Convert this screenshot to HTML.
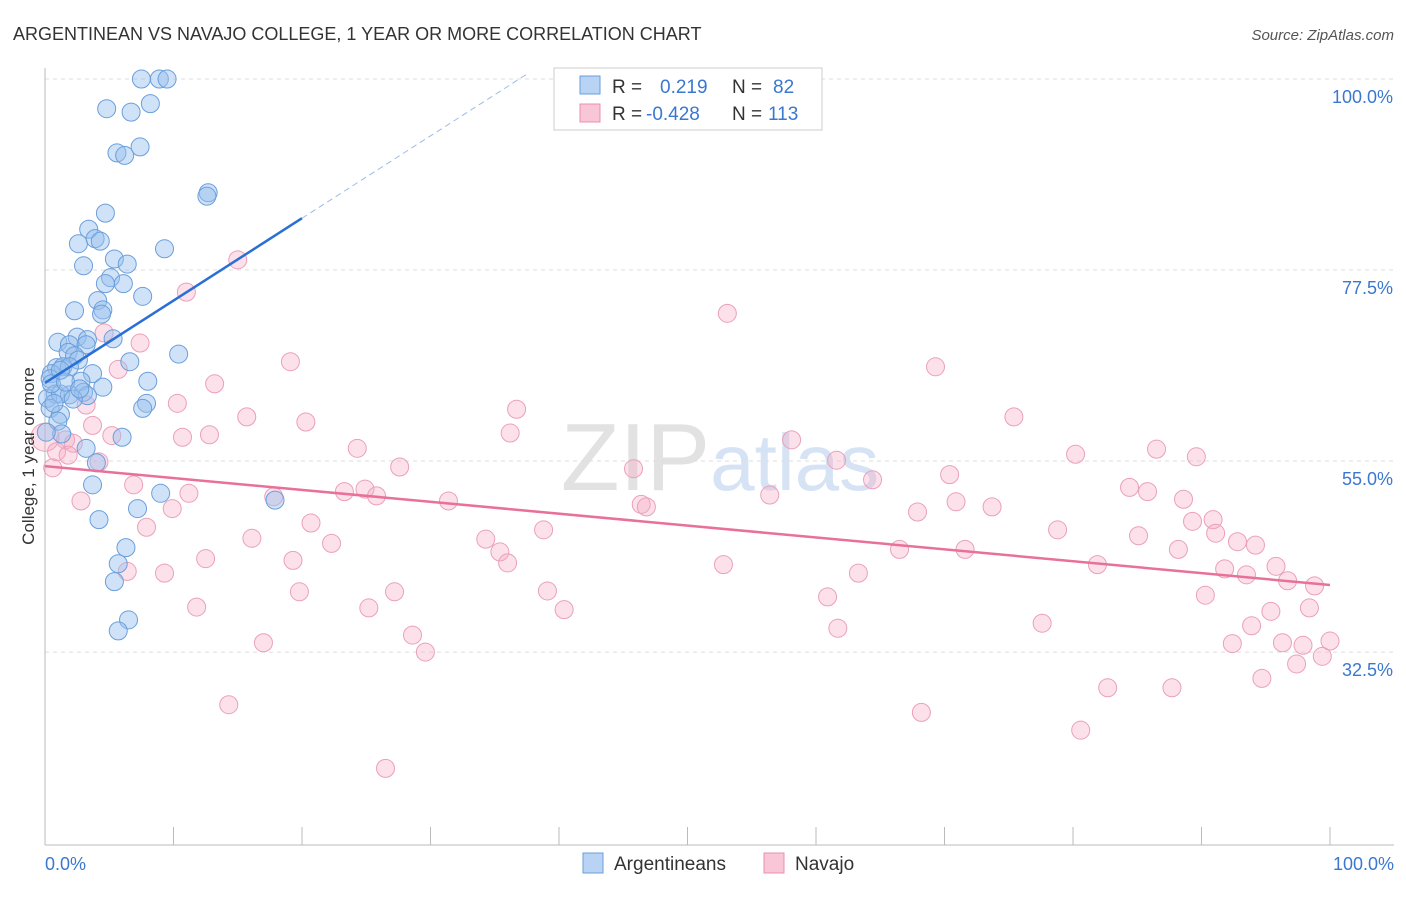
<!DOCTYPE html>
<html><head><meta charset="utf-8"><style>
body{margin:0;background:#fff;font-family:"Liberation Sans",sans-serif}
svg text{font-family:"Liberation Sans",sans-serif}
</style></head><body>
<svg id="chart" width="1406" height="892" viewBox="0 0 1406 892" xmlns="http://www.w3.org/2000/svg">
<text x="13" y="40" font-size="18" fill="#333">ARGENTINEAN VS NAVAJO COLLEGE, 1 YEAR OR MORE CORRELATION CHART</text>
<text x="1394" y="40" font-size="15" fill="#555" text-anchor="end" font-style="italic">Source: ZipAtlas.com</text>
<text x="720" y="490" font-size="96" text-anchor="middle" fill="#e2e2e2" font-family="Liberation Serif">ZIP<tspan fill="#d6e3f5" font-family="Liberation Sans" font-size="80">atlas</tspan></text>
<g id="grid"></g>
<g id="axes"></g>
<g id="pts"></g>
<g id="trends"></g>
<text transform="translate(34,456) rotate(-90)" font-size="17" fill="#333" text-anchor="middle">College, 1 year or more</text>
<g>
<rect x="554" y="68" width="268" height="62" fill="#fff" stroke="#ccc"/>
<rect x="580" y="76" width="20" height="18" fill="#b8d3f3" stroke="#6a9fdc"/>
<rect x="580" y="104" width="20" height="18" fill="#f8c6d6" stroke="#e890ae"/>
<text x="612" y="93" font-size="19" fill="#333">R =</text>
<text x="660" y="93" font-size="19" fill="#3a78d0">0.219</text>
<text x="732" y="93" font-size="19" fill="#333">N =</text>
<text x="773" y="93" font-size="19" fill="#3a78d0">82</text>
<text x="612" y="120" font-size="19" fill="#333">R =</text>
<text x="646" y="120" font-size="19" fill="#3a78d0">-0.428</text>
<text x="732" y="120" font-size="19" fill="#333">N =</text>
<text x="768" y="120" font-size="19" fill="#3a78d0">113</text>
</g>
<g>
<rect x="583" y="853" width="20" height="20" fill="#b8d3f3" stroke="#6a9fdc"/>
<text x="614" y="870" font-size="19" fill="#333">Argentineans</text>
<rect x="764" y="853" width="20" height="20" fill="#f8c6d6" stroke="#e890ae"/>
<text x="795" y="870" font-size="19" fill="#333">Navajo</text>
</g>
</svg>
<script>
const yTicks=[100,77.5,55,32.5];
const yTickLabels=["100.0%","77.5%","55.0%","32.5%"];
const xTickLabels=["0.0%","100.0%"];
const blueX=[7.5,8.9,9.5,4.8,6.7,8.2,7.4,5.6,6.2,12.7,12.6,4.7,3.4,2.6,3.9,4.3,9.3,3.0,5.4,6.4,5.1,4.7,6.1,7.6,4.1,4.5,4.4,2.3,5.3,1.0,2.5,1.9,3.3,3.2,1.8,2.3,2.6,6.6,10.4,0.9,1.4,1.9,3.7,0.5,0.4,2.8,8.0,4.5,0.8,1.9,3.0,3.3,0.2,1.2,2.2,7.9,7.6,0.4,1.2,1.0,1.3,6.0,3.2,4.0,3.7,9.0,17.9,7.2,4.2,6.3,5.7,5.4,6.5,5.7,0.5,1.6,1.2,2.7,0.7,0.1];
const blueY=[100,100,100,96.5,96.1,97.1,92.0,91.3,91.0,86.6,86.2,84.2,82.3,80.6,81.2,80.9,80.0,78.0,78.8,78.2,76.6,75.9,75.9,74.4,73.9,72.8,72.3,72.7,69.4,69.0,69.6,68.7,69.3,68.7,67.8,67.4,66.9,66.7,67.6,66.0,66.1,66.1,65.3,65.3,64.7,64.4,64.4,63.7,62.9,62.8,63.1,62.7,62.4,62.9,62.3,61.8,61.2,61.2,60.5,59.7,58.2,57.8,56.5,54.8,52.2,51.2,50.4,49.4,48.1,44.8,42.9,40.8,36.3,35.0,64.1,64.3,65.7,63.5,61.8,58.4];
const pinkX=[0,15.0,11.0,4.6,7.4,19.1,5.7,13.2,10.3,3.2,15.7,20.3,3.7,10.7,12.8,5.2,1.6,2.2,36.7,36.2,24.3,0.9,1.8,4.2,0.6,27.6,6.9,11.2,2.8,9.9,17.8,23.3,24.9,25.8,31.4,20.7,7.9,16.1,22.3,34.3,38.8,35.4,36.0,12.5,6.4,9.3,19.3,19.8,27.2,25.2,11.8,39.1,40.4,28.6,29.6,17.0,14.3,26.5,53.1,69.3,75.4,58.1,61.6,64.4,45.8,46.4,46.8,56.4,52.8,66.5,63.3,67.9,70.4,70.9,71.6,73.7,60.9,61.7,68.2,77.6,80.2,78.8,81.9,80.6,82.7,84.4,85.1,85.8,86.5,88.6,89.6,89.3,90.9,91.1,88.2,90.3,87.7,91.8,92.8,93.5,94.2,95.4,93.9,92.4,95.8,96.7,96.3,97.9,98.8,98.4,97.4,99.4,100,94.7];
const pinkY=[57.8,78.7,74.9,70.1,68.9,66.7,65.8,64.1,61.8,61.6,60.2,59.6,59.2,57.8,58.1,58.0,57.5,57.1,61.1,58.3,56.5,56.1,55.7,54.9,54.2,54.3,52.2,51.2,50.3,49.4,50.8,51.4,51.7,50.9,50.3,47.7,47.2,45.9,45.3,45.8,46.9,44.3,43.0,43.5,42.0,41.8,43.3,39.6,39.6,37.7,37.8,39.7,37.5,34.5,32.5,33.6,26.3,18.8,72.4,66.1,60.2,57.5,55.1,52.8,54.1,49.9,49.6,51.0,42.8,44.6,41.8,49.0,53.4,50.2,44.6,49.6,39.0,35.3,25.4,35.9,55.8,46.9,42.8,23.3,28.3,51.9,46.2,51.4,56.4,50.5,55.5,47.9,48.1,46.5,44.6,39.2,28.3,42.3,45.5,41.6,45.1,37.3,35.6,33.5,42.6,40.9,33.6,33.3,40.3,37.7,31.1,32.0,33.8,29.4];
const blueTrend=[64.2,0.97];
const pinkTrend=[54.4,-0.14];
const NS="http://www.w3.org/2000/svg";
const X0=45,X1=1330,YTOP=79,PXPER=8.49,BOTTOM=845;
const sx=v=>X0+(X1-X0)*v/100;
const sy=v=>YTOP+(100-v)*PXPER;
function mk(tag,attrs,parent){const e=document.createElementNS(NS,tag);for(const k in attrs)e.setAttribute(k,attrs[k]);document.getElementById(parent).appendChild(e);return e;}
yTicks.forEach((t,i)=>{
 const l=mk('line',{x1:45,x2:1394,y1:sy(t),y2:sy(t),stroke:'#ddd','stroke-dasharray':'4,4'},'grid');
 
 
 const tx=mk('text',{x:1393,y:sy(t)+24,'font-size':18,fill:'#3a78d0','text-anchor':'end'},'grid');
 tx.textContent=yTickLabels[i];
 
 
});
const ax=mk('line',{x1:45,x2:45,y1:68,y2:BOTTOM,stroke:'#bbb'},'axes');


const bx=mk('line',{x1:45,x2:1394,y1:BOTTOM,y2:BOTTOM,stroke:'#bbb'},'axes');


for(let i=0;i<=10;i++){
 const t=mk('line',{x1:sx(i*10),x2:sx(i*10),y1:BOTTOM-18,y2:BOTTOM,stroke:'#bbb'},'axes');
 
 
}
[[0,'start',45],[100,'end',1394]].forEach((d,i)=>{
 const t=mk('text',{x:d[2],y:870,'font-size':18,fill:'#3a78d0','text-anchor':d[1]},'axes');
 t.textContent=xTickLabels[i];
 
 
});
pinkX.forEach((x,i)=>{
 const c=mk('circle',{cx:sx(x),cy:sy(pinkY[i]),r:i===0?14:9,fill:'rgba(245,170,195,0.35)',stroke:'#eba0ba','stroke-width':1},'pts');
 
 
});
blueX.forEach((x,i)=>{
 const c=mk('circle',{cx:sx(x),cy:sy(blueY[i]),r:9,fill:'rgba(150,190,238,0.45)',stroke:'#6a9fdc','stroke-width':1},'pts');
 
 
});
const bt=mk('line',{x1:sx(0),y1:sy(blueTrend[0]),x2:sx(20),y2:sy(blueTrend[0]+blueTrend[1]*20),stroke:'#2a6fd6','stroke-width':2.5},'trends');


const xe=(100.5-blueTrend[0])/blueTrend[1];
const bd=mk('line',{x1:sx(20),y1:sy(blueTrend[0]+blueTrend[1]*20),x2:sx(xe),y2:sy(blueTrend[0]+blueTrend[1]*xe),stroke:'#9bbce8','stroke-width':1,'stroke-dasharray':'6,4'},'trends');


const pt=mk('line',{x1:sx(0),y1:sy(pinkTrend[0]),x2:sx(100),y2:sy(pinkTrend[0]+pinkTrend[1]*100),stroke:'#e8709a','stroke-width':2.5},'trends');


</script>
</body></html>
